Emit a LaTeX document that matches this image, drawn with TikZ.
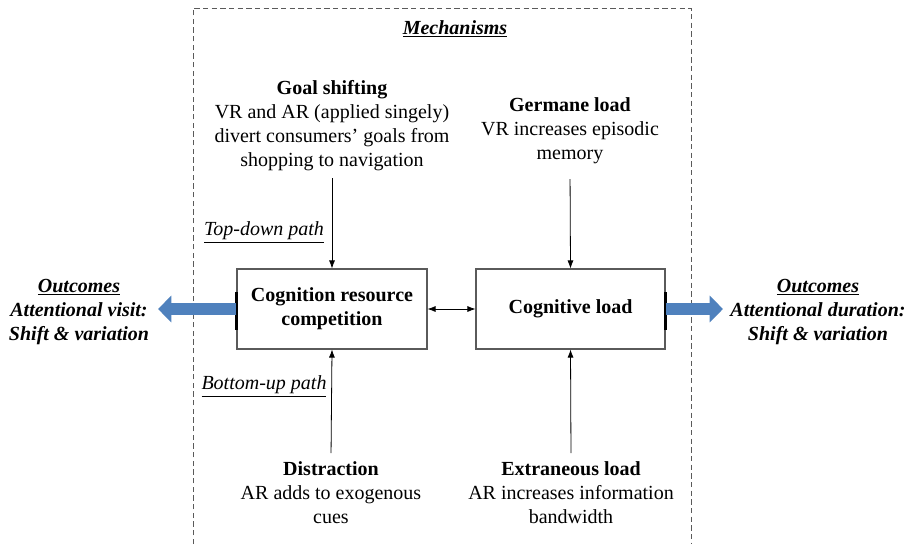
\documentclass[tikz,border=0pt]{standalone}
\usepackage{fontspec}
\setmainfont{Liberation Serif}
\usepackage{tikz}
\usetikzlibrary{arrows.meta,positioning}
\definecolor{outblue}{RGB}{79,129,189}
\definecolor{boxgray}{RGB}{90,90,90}

\begin{document}
\begin{tikzpicture}[
    x=0.75pt, y=-0.75pt,
    every node/.style={font=\fontsize{15}{18}\selectfont},
    mechbox/.style={rectangle, draw=boxgray, line width=0.8pt, minimum width=142.5pt, minimum height=60pt, align=center, font=\fontsize{15}{18}\selectfont\bfseries},
    txtblock/.style={align=center, inner sep=3pt},
    arrow/.style={-{Latex[length=6pt,width=4.5pt]}, line width=0.6pt, color=black},
    outarrow/.style={-{Triangle[length=10pt,width=19.5pt]}, line width=9pt, color=outblue},
    pathlabel/.style={font=\fontsize{15}{18}\selectfont\itshape}
]
\useasboundingbox (0,0) rectangle (912,544);

% Dashed frame for the mechanisms
\draw[boxgray, line width=0.6pt, dash pattern=on 4pt off 2.5pt] (193,544) -- (193,8) -- (691,8) -- (691,544);
\node[font=\fontsize{15}{18}\selectfont\bfseries\itshape] (mech) at (455,28.5) {\underline{Mechanisms}};

% Central boxes
\node[mechbox] (ccomp) at (332,309) {\raisebox{-2pt}{\shortstack{Cognition resource\\[1.5pt]competition}}};
\node[mechbox, minimum width=141.75pt] (cload) at (570.5,309) {\raisebox{-2pt}{Cognitive load}};
\draw[arrow, {Latex[length=6pt,width=4.5pt]}-{Latex[length=6pt,width=4.5pt]}] (ccomp.east) -- (cload.west);

% Thick ticks on the outer edges
\draw[line width=1.6pt] ([yshift=12.5pt]ccomp.west) -- ([yshift=-15.5pt]ccomp.west);
\draw[line width=1.6pt] ([yshift=12.5pt]cload.east) -- ([yshift=-15.5pt]cload.east);

% Top mechanisms
\node[txtblock] (goal) at (332,126) {\textbf{Goal shifting}\\VR and AR (applied singely)\\divert consumers' goals from\\shopping to navigation};
\node[txtblock] (germ) at (570,131) {\textbf{Germane load}\\VR increases episodic\\memory};
\draw[arrow, shorten <=2pt] (goal.south) -- (ccomp.north);
\draw[arrow, shorten <=8pt] (germ.south) -- (cload.north);

% Bottom mechanisms
\node[txtblock] (distr) at (331,492.5) {\textbf{Distraction}\\AR adds to exogenous\\cues};
\node[txtblock] (extra) at (571,492.5) {\textbf{Extraneous load}\\AR increases information\\bandwidth};
\draw[arrow, shorten <=3pt] (distr.north) -- (ccomp.south);
\draw[arrow, shorten <=3pt] (extra.north) -- (cload.south);

% Path labels
\node[pathlabel] (topdown) at (264,232.5) {\underline{Top-down path}};
\node[pathlabel] (botup) at (264,386.5) {\underline{Bottom-up path}};

% Outcomes
\node[txtblock, font=\fontsize{15}{18}\selectfont\bfseries\itshape] (outl) at (79,312) {\underline{Outcomes}\\Attentional visit:\\Shift \& variation};
\node[txtblock, font=\fontsize{15}{18}\selectfont\bfseries\itshape] (outr) at (818,312) {\underline{Outcomes}\\Attentional duration:\\Shift \& variation};
\coordinate (ltip) at (158,309);
\coordinate (rtip) at (723,309);
\draw[outarrow] (ccomp.west) -- (ltip);
\draw[outarrow] (cload.east) -- (rtip);

\end{tikzpicture}
\end{document}
